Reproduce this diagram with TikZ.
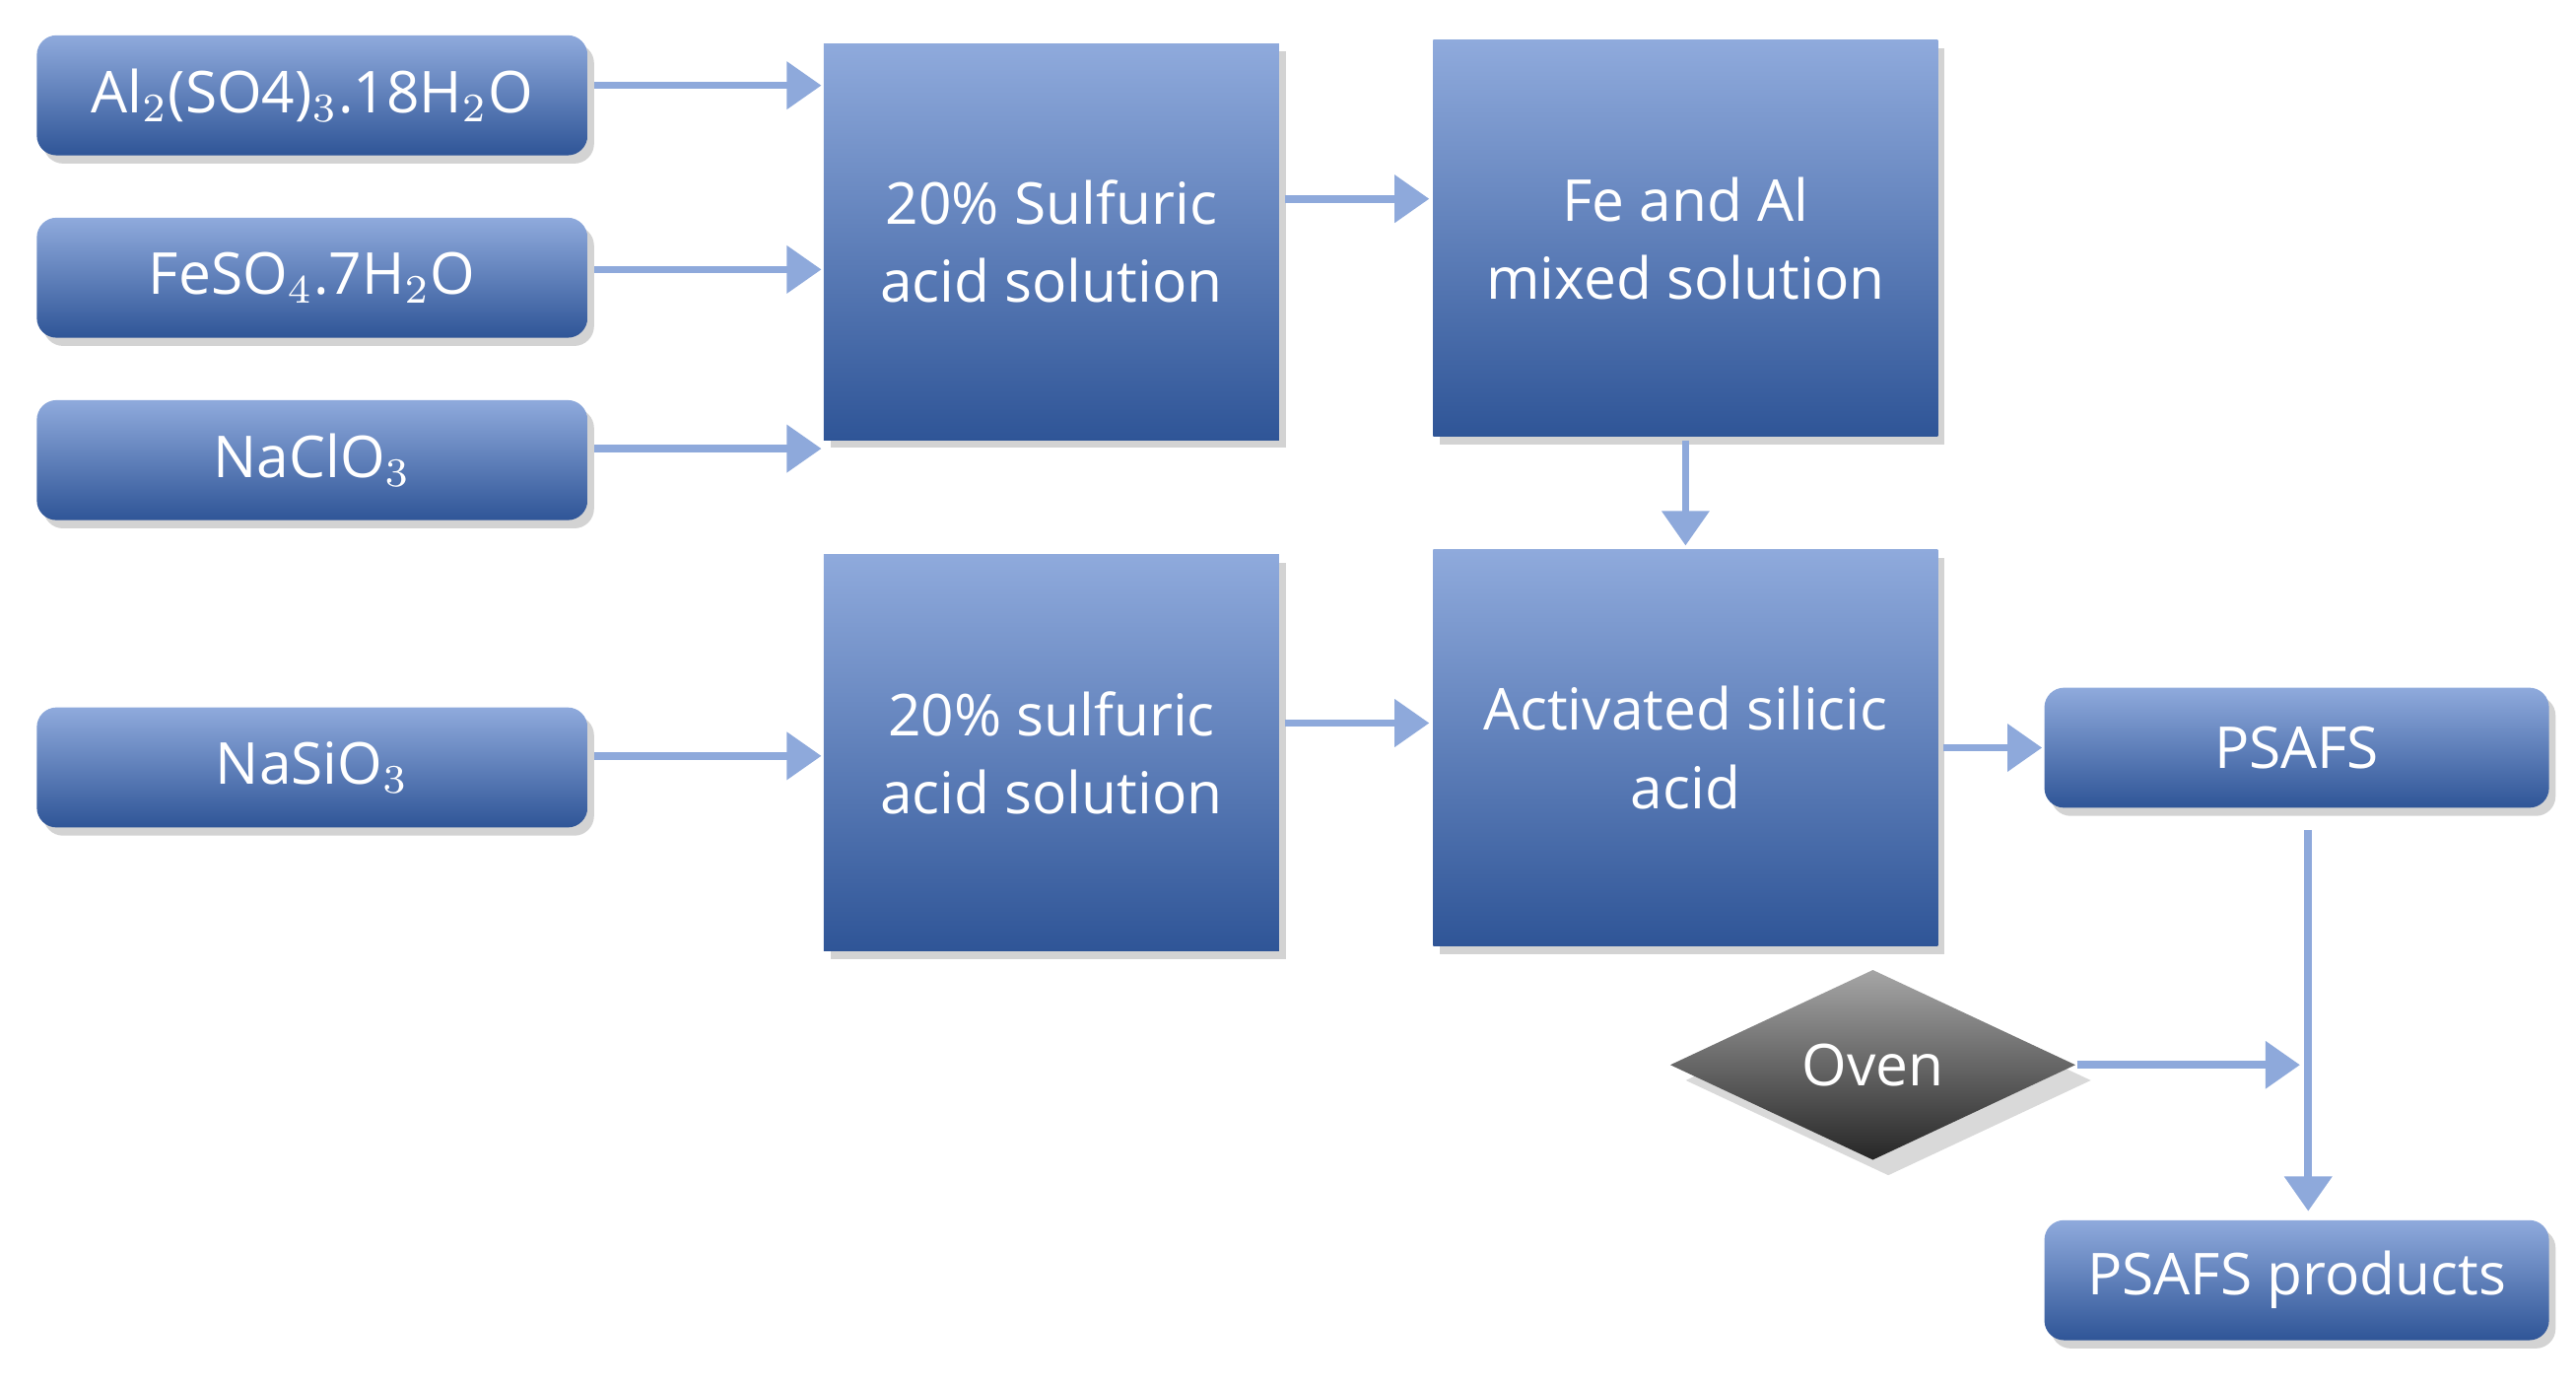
\documentclass[tikz,border=0pt]{standalone}
\usepackage{fontspec}
\setmainfont{Open Sans}
\usetikzlibrary{shadows,shapes.geometric,arrows.meta}
\definecolor{btop}{RGB}{143,170,220}
\definecolor{bbot}{RGB}{47,85,151}
\definecolor{arrc}{RGB}{142,169,219}
\begin{document}
\begin{tikzpicture}[x=0.01cm,y=-0.01cm,
  box/.style={draw=none,top color=btop,bottom color=bbot,text=white,align=center,
    font=\fontsize{10}{13.5}\selectfont,drop shadow={opacity=0.35,shadow xshift=0.04cm,shadow yshift=-0.05cm},inner sep=0pt},
  small/.style={box,rounded corners=0.12cm,minimum height=0.73cm,minimum width=3.35cm},
  big/.style={box,minimum height=2.41cm,minimum width=2.77cm},
  wide/.style={big,minimum width=3.07cm},
  arr/.style={draw=arrc,line width=1.3pt,-{Triangle[length=6pt,width=8pt]}}]
\useasboundingbox (0,0) rectangle (1568,843);
\node[small] (al) at (190,58) {Al$_2$(SO4)$_3$.18H$_2$O};
\node[small] (fe) at (190,169) {FeSO$_4$.7H$_2$O};
\node[small] (na) at (190,280) {NaClO$_3$};
\node[small] (si) at (190,467) {NaSiO$_3$};
\node[big] (s1) at (640,147) {20\% Sulfuric\\acid solution};
\node[big] (s2) at (640,458) {20\% sulfuric\\acid solution};
\node[wide] (mix) at (1026,145) {Fe and Al\\mixed solution};
\node[wide] (act) at (1026,455) {Activated silicic\\acid};
\node[small,minimum width=3.07cm] (ps) at (1398,455) {PSAFS};
\node[small,minimum width=3.07cm] (pp) at (1398,779) {PSAFS products};
\node[diamond,aspect=2.1,minimum width=2.47cm,minimum height=1.16cm,inner sep=0pt,text=white,
  font=\fontsize{10}{12}\selectfont,top color=gray!70,bottom color=black!85,drop shadow={opacity=0.3}] (ov) at (1140,648) {Oven};
\draw[arr] (362,52) -- (500,52);
\draw[arr] (362,164) -- (500,164);
\draw[arr] (362,273) -- (500,273);
\draw[arr] (362,460) -- (500,460);
\draw[arr] (782,121) -- (870,121);
\draw[arr] (782,440) -- (870,440);
\draw[arr] (1026,268) -- (1026,332);
\draw[arr] (1183,455) -- (1243,455);
\draw[arr] (1405,505) -- (1405,737);
\draw[arr] (ov.east) -- (1400,648);
\end{tikzpicture}
\end{document}
